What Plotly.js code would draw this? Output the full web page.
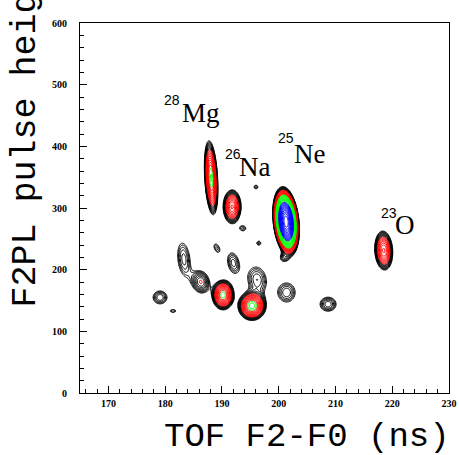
<!DOCTYPE html>
<html><head><meta charset="utf-8">
<script src="https://cdn.plot.ly/plotly-3.0.1.min.js"></script>
<style>html,body{margin:0;padding:0;background:#fff}</style>
</head><body>
<div id="chart" style="width:459px;height:455px"></div>
<script>
// Peak (blob) parameters: centre, widths, height, tilt
const peakNames = ["25Ne","28Mg","26Na","23O","p5","p6","p7","p8","p9","p10","p11","p12","p13","p14","p15","p16","p17","p18","p19"];
const peakX     = [201.3, 188.1, 191.8, 218.5, 195.3, 190.2, 196.2, 201.4, 208.7, 186.3, 183.3, 179.1, 181.4, 192.0, 189.1, 200.9, 196.5, 196.0, 193.7];
const peakY     = [278,   349,   302,   231,   141,   159,   184,   163,   144,   180,   217,   155,   133,   211,   235,   219,   243,   334,   267];
const peakSX    = [0.75,  0.555, 0.84,  0.84,  1.18,  0.95,  1.47,  1.38,  1.2,   1.08,  1.03,  1.13,  0.61,  0.94,  0.61,  0.73,  0.48,  0.48,  0.69];
const peakSY    = [18.5,  29,    14.5,  16.7,  11.2,  11.9,  18.7,  14.2,  9.7,   12.9,  25.2,  9.7,   3.3,   15.7,  9,     6.8,   4.4,   4.1,   5.5];
const peakAmp   = [110,   8.5,   6,     6,     8.9,   8,     1.8,   1.8,   2.0,   2.6,   1.7,   1.8,   1.3,   1.7,   1.3,   1.3,   1.3,   1.3,   1.3];
const peakTilt  = [-0.01, -0.006, 0,   -0.005, 0,     0,    -0.01,  0,     0,    -0.01, -0.01,  0,     0,    -0.015,-0.03,  0,     0,     0,     0];

const xTicks = [170,180,190,200,210,220,230];
const yTicks = [0,100,200,300,400,500,600];

const isotopeMass = ["28","26","25","23"];
const isotopeSym  = ["Mg","Na","Ne","O"];
const isoSupX = [179.4, 190.2, 199.5, 217.7];
const isoSupY = [475, 388, 413.5, 292];
const isoSymX = [182.6, 192.7, 202.3, 220.1];
const isoSymY = [454, 366, 388, 273];

// histogram grid
const gx = [], gy = [];
for (let x = 172; x <= 225.0001; x += 0.1) gx.push(+x.toFixed(2));
for (let y = 100; y <= 430; y += 2) gy.push(y);
const z = gy.map(y => gx.map(x => {
  let s = 0;
  for (let i = 0; i < peakX.length; i++) {
    const xc = peakX[i] + peakTilt[i] * (y - peakY[i]);
    const dx = (x - xc) / peakSX[i], dy = (y - peakY[i]) / peakSY[i];
    s += peakAmp[i] * Math.exp(-0.5 * (dx*dx + dy*dy));
  }
  return Math.log(s + 1e-9);
}));

const zTop = Math.log(110);
const cs = [[0,'#000000'],[0.19,'#000000'],[0.19,'#ff0000'],[0.407,'#ff0000'],[0.407,'#00ff00'],[0.675,'#00ff00'],[0.675,'#0000ff'],[1,'#0000ff']];

const trace = {
  type: 'contour', x: gx, y: gy, z: z,
  autocontour: false,
  contours: {start: 0, end: zTop, size: zTop/40, coloring: 'lines'},
  colorscale: cs, showscale: false,
  line: {width: 1, smoothing: 1},
  hoverinfo: 'skip'
};

const tickFont = {family: 'Liberation Serif', size: 10, color: '#000', weight: 'bold'};
const annotations = [];
for (let i = 0; i < isotopeSym.length; i++) {
  annotations.push({xref:'x', yref:'y', x: isoSupX[i], y: isoSupY[i], text: isotopeMass[i], showarrow:false,
    xanchor:'left', yanchor:'middle', font:{family:'Liberation Sans', size:14, color:'#000'}});
  annotations.push({xref:'x', yref:'y', x: isoSymX[i], y: isoSymY[i], text: isotopeSym[i], showarrow:false,
    xanchor:'left', yanchor:'middle', font:{family:'Liberation Serif', size:27, color:'#000'}});
}
annotations.push({xref:'paper', yref:'paper', x: 0.6152, y: -0.119, text:'TOF F2-F0 (ns)', showarrow:false,
  xanchor:'center', yanchor:'middle', font:{family:'Liberation Mono', size:34, color:'#000'}});
annotations.push({xref:'paper', yref:'paper', x: -0.1463, y: 0.7119, text:'F2PL pulse height', showarrow:false, textangle:-90,
  xanchor:'center', yanchor:'middle', font:{family:'Liberation Mono', size:35, color:'#000'}});

const layout = {
  width: 459, height: 455,
  margin: {l: 80, r: 10, t: 23, b: 62},
  paper_bgcolor: '#fff', plot_bgcolor: '#fff',
  showlegend: false,
  xaxis: {range: [165, 230], tickvals: xTicks, ticktext: xTicks.map(String), ticks: 'inside', ticklen: 7, tickwidth: 1,
    tickcolor: '#000', showline: true, linecolor: '#000', linewidth: 1, mirror: true, showgrid: false, zeroline: false,
    tickfont: tickFont, ticklabelstandoff: 1,
    minor: {dtick: 2, tick0: 0, ticks: 'inside', ticklen: 4, tickcolor: '#000', showgrid: false}},
  yaxis: {range: [0, 600], tickvals: yTicks, ticktext: yTicks.map(String), ticks: 'inside', ticklen: 7, tickwidth: 1,
    tickcolor: '#000', showline: true, linecolor: '#000', linewidth: 1, mirror: true, showgrid: false, zeroline: false,
    tickfont: tickFont, ticklabelstandoff: 10,
    minor: {dtick: 20, tick0: 0, ticks: 'inside', ticklen: 4, tickcolor: '#000', showgrid: false}},
  annotations: annotations
};

Plotly.newPlot('chart', [trace], layout, {staticPlot: true, displayModeBar: false});
</script>
</body></html>
